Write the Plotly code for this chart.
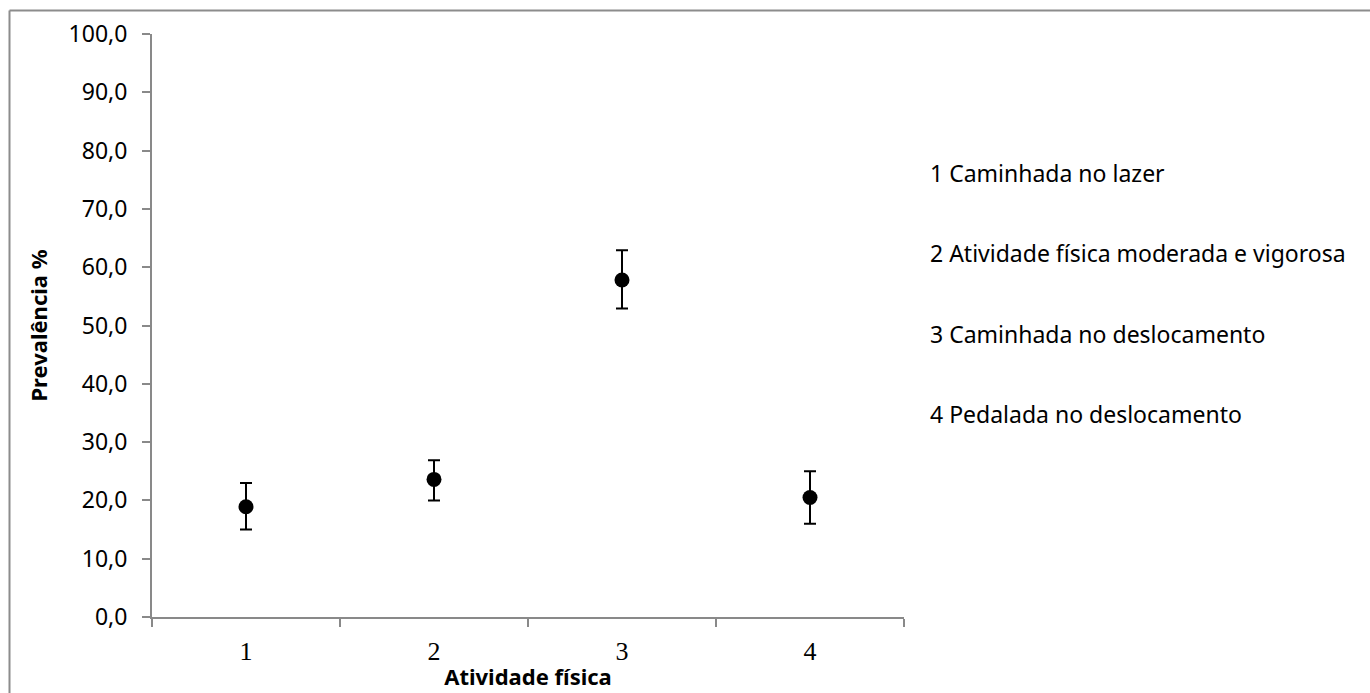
import plotly.graph_objects as go

categories = ["1", "2", "3", "4"]
prevalence = [18.9, 23.6, 57.8, 20.5]
ci_upper = [23.0, 26.9, 62.9, 25.0]
ci_lower = [15.0, 20.0, 52.9, 16.0]
descriptions = [
    "1 Caminhada no lazer",
    "2 Atividade física moderada e vigorosa",
    "3 Caminhada no deslocamento",
    "4 Pedalada no deslocamento",
]

err_plus = [u - v for u, v in zip(ci_upper, prevalence)]
err_minus = [v - l for v, l in zip(prevalence, ci_lower)]

W, H = 1370, 693
L, R, T, B = 152, 466, 34, 76
pw, ph = W - L - R, H - T - B

fig = go.Figure()
fig.add_trace(go.Scatter(
    x=categories, y=prevalence, mode="markers",
    marker=dict(color="black", size=15),
    error_y=dict(type="data", symmetric=False, array=err_plus, arrayminus=err_minus,
                 color="black", thickness=2, width=6),
    showlegend=False,
))

axis_color = "#898989"
fig.update_layout(
    width=W, height=H,
    margin=dict(l=L, r=R, t=T, b=B, autoexpand=False),
    paper_bgcolor="white", plot_bgcolor="white",
    separators=",.",
    xaxis=dict(
        type="category", range=[-0.5, 3.5], showgrid=False, zeroline=False,
        automargin=False,
        showline=True, linecolor=axis_color, linewidth=2,
        ticks="outside", tickson="boundaries", ticklen=8, tickcolor=axis_color, tickwidth=2,
        tickfont=dict(family="Liberation Serif", size=26, color="black"),
        ticklabelstandoff=10,
        title=dict(text="<b>Atividade física</b>", standoff=4,
                   font=dict(family="Noto Sans", size=22, color="black")),
    ),
    yaxis=dict(
        range=[0, 100], dtick=10, tickformat=".1f", showgrid=False, zeroline=False,
        automargin=False,
        showline=True, linecolor=axis_color, linewidth=2,
        ticks="outside", ticklen=8, tickcolor=axis_color, tickwidth=2,
        tickfont=dict(family="Noto Sans", size=23, color="black"),
        ticklabelstandoff=10,
        title=dict(text="<b>Prevalência %</b>", standoff=15,
                   font=dict(family="Noto Sans", size=22, color="black")),
    ),
)

def px_to_paper_x(px):
    return (px - L) / pw

def px_to_paper_y(py):
    return (H - B - py) / ph

# outer frame (cropped at right and bottom)
fig.add_shape(type="line", xref="paper", yref="paper",
              x0=px_to_paper_x(9.5), x1=px_to_paper_x(1400),
              y0=px_to_paper_y(10.5), y1=px_to_paper_y(10.5),
              line=dict(color="#8c8c8c", width=2))
fig.add_shape(type="line", xref="paper", yref="paper",
              x0=px_to_paper_x(9.5), x1=px_to_paper_x(9.5),
              y0=px_to_paper_y(10.5), y1=px_to_paper_y(720),
              line=dict(color="#8c8c8c", width=2))

label_y_px = [173, 253, 334, 414]
for txt, py in zip(descriptions, label_y_px):
    fig.add_annotation(text=txt, xref="paper", yref="paper",
                       x=px_to_paper_x(928), y=px_to_paper_y(py),
                       xanchor="left", yanchor="middle", showarrow=False,
                       font=dict(family="Noto Sans", size=23, color="black"))

fig.write_html(
    "out.html",
    config={"displayModeBar": False},
    post_script="document.body.style.margin='0px';document.body.style.overflow='hidden';",
)
